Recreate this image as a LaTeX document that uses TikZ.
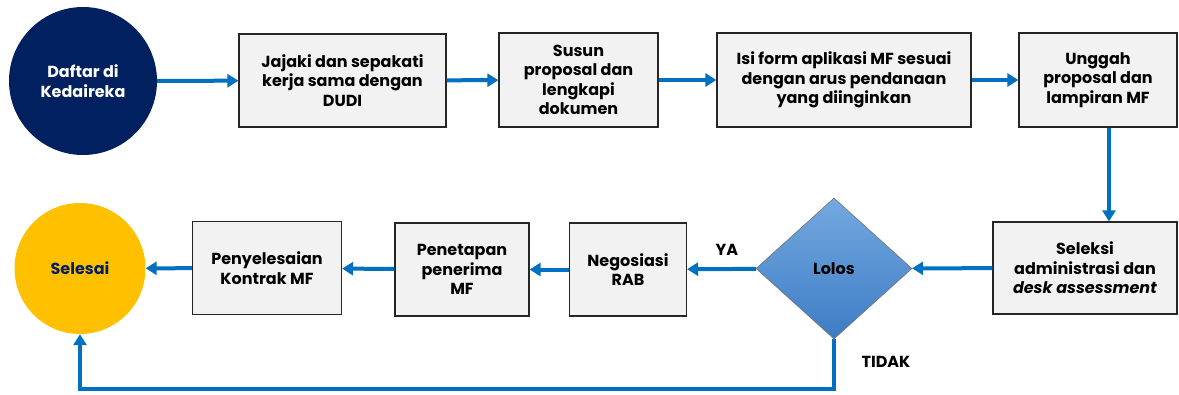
\documentclass[tikz,border=0pt]{standalone}
\usepackage{fontspec}
\setmainfont{Poppins}
\usetikzlibrary{shapes.geometric,arrows.meta}
\definecolor{navy}{HTML}{002060}
\definecolor{gold}{HTML}{FFC000}
\definecolor{flowblue}{HTML}{0070C0}
\definecolor{boxfill}{HTML}{F2F2F2}
\definecolor{diatop}{HTML}{74A9E0}
\definecolor{diabot}{HTML}{3D7CC4}
\begin{document}
\begin{tikzpicture}[x=1pt,y=-1pt,
    font=\fontsize{16}{19.5}\selectfont\bfseries,
    box/.style={draw=black!85,line width=1.2pt,fill=boxfill,align=center,
      minimum height=93pt,inner sep=2pt},
    arr/.style={draw=flowblue,line width=4pt,-{Triangle[length=11pt,width=13pt]}}]
  \useasboundingbox (0,0) rectangle (1179,394);
  % top row
  \node [circle,fill=navy,text=white,align=center,minimum size=148pt] (daftar) at (83,81) {Daftar di\\Kedaireka};
  \node [box,minimum width=207pt] (jajaki) at (342.5,80.5) {Jajaki dan sepakati\\kerja sama dengan\\DUDI};
  \node [box,minimum width=159pt,minimum height=94pt] (susun) at (578.5,80) {Susun\\proposal dan\\lengkapi\\dokumen};
  \node [box,minimum width=254pt,minimum height=94pt] (isi) at (844,80) {Isi form aplikasi MF sesuai\\dengan arus pendanaan\\yang diinginkan};
  \node [box,minimum width=158pt,minimum height=94pt] (unggah) at (1098,80) {Unggah\\proposal dan\\lampiran MF};
  % bottom row
  \node [box,minimum width=184pt,minimum height=92pt] (seleksi) at (1085,268) {Seleksi\\administrasi dan\\\textit{desk assessment}};
  \node [diamond,draw=black!55,line width=0.6pt,top color=diatop,bottom color=diabot,
    aspect=1.1,inner sep=0pt,minimum width=156pt,minimum height=141pt] (lolos) at (834,268.5) {Lolos};
  \node [box,minimum width=117pt] (nego) at (628,269.5) {Negosiasi\\RAB};
  \node [box,minimum width=134pt] (tetap) at (462,269.5) {Penetapan\\penerima\\MF};
  \node [box,minimum width=149pt] (kontrak) at (267,268) {Penyelesaian\\Kontrak MF};
  \node [circle,fill=gold,text=navy,minimum size=131pt] (selesai) at (80,268.5) {Selesai};
  \foreach \a/\b in {daftar/jajaki,jajaki/susun,susun/isi,isi/unggah,seleksi/lolos,lolos/nego,nego/tetap,tetap/kontrak,kontrak/selesai}
    \draw [arr] (\a) -- (\b);
  \draw [arr] ([xshift=11pt]unggah.south) -- ([xshift=11pt]unggah.south |- seleksi.north);
  \draw [arr] (lolos.south) -- ++(0,50) -| (selesai.south);
  \node (ya) at (727,250) {YA};
  \node (tidak) at (886,362) {TIDAK};
\end{tikzpicture}
\end{document}
